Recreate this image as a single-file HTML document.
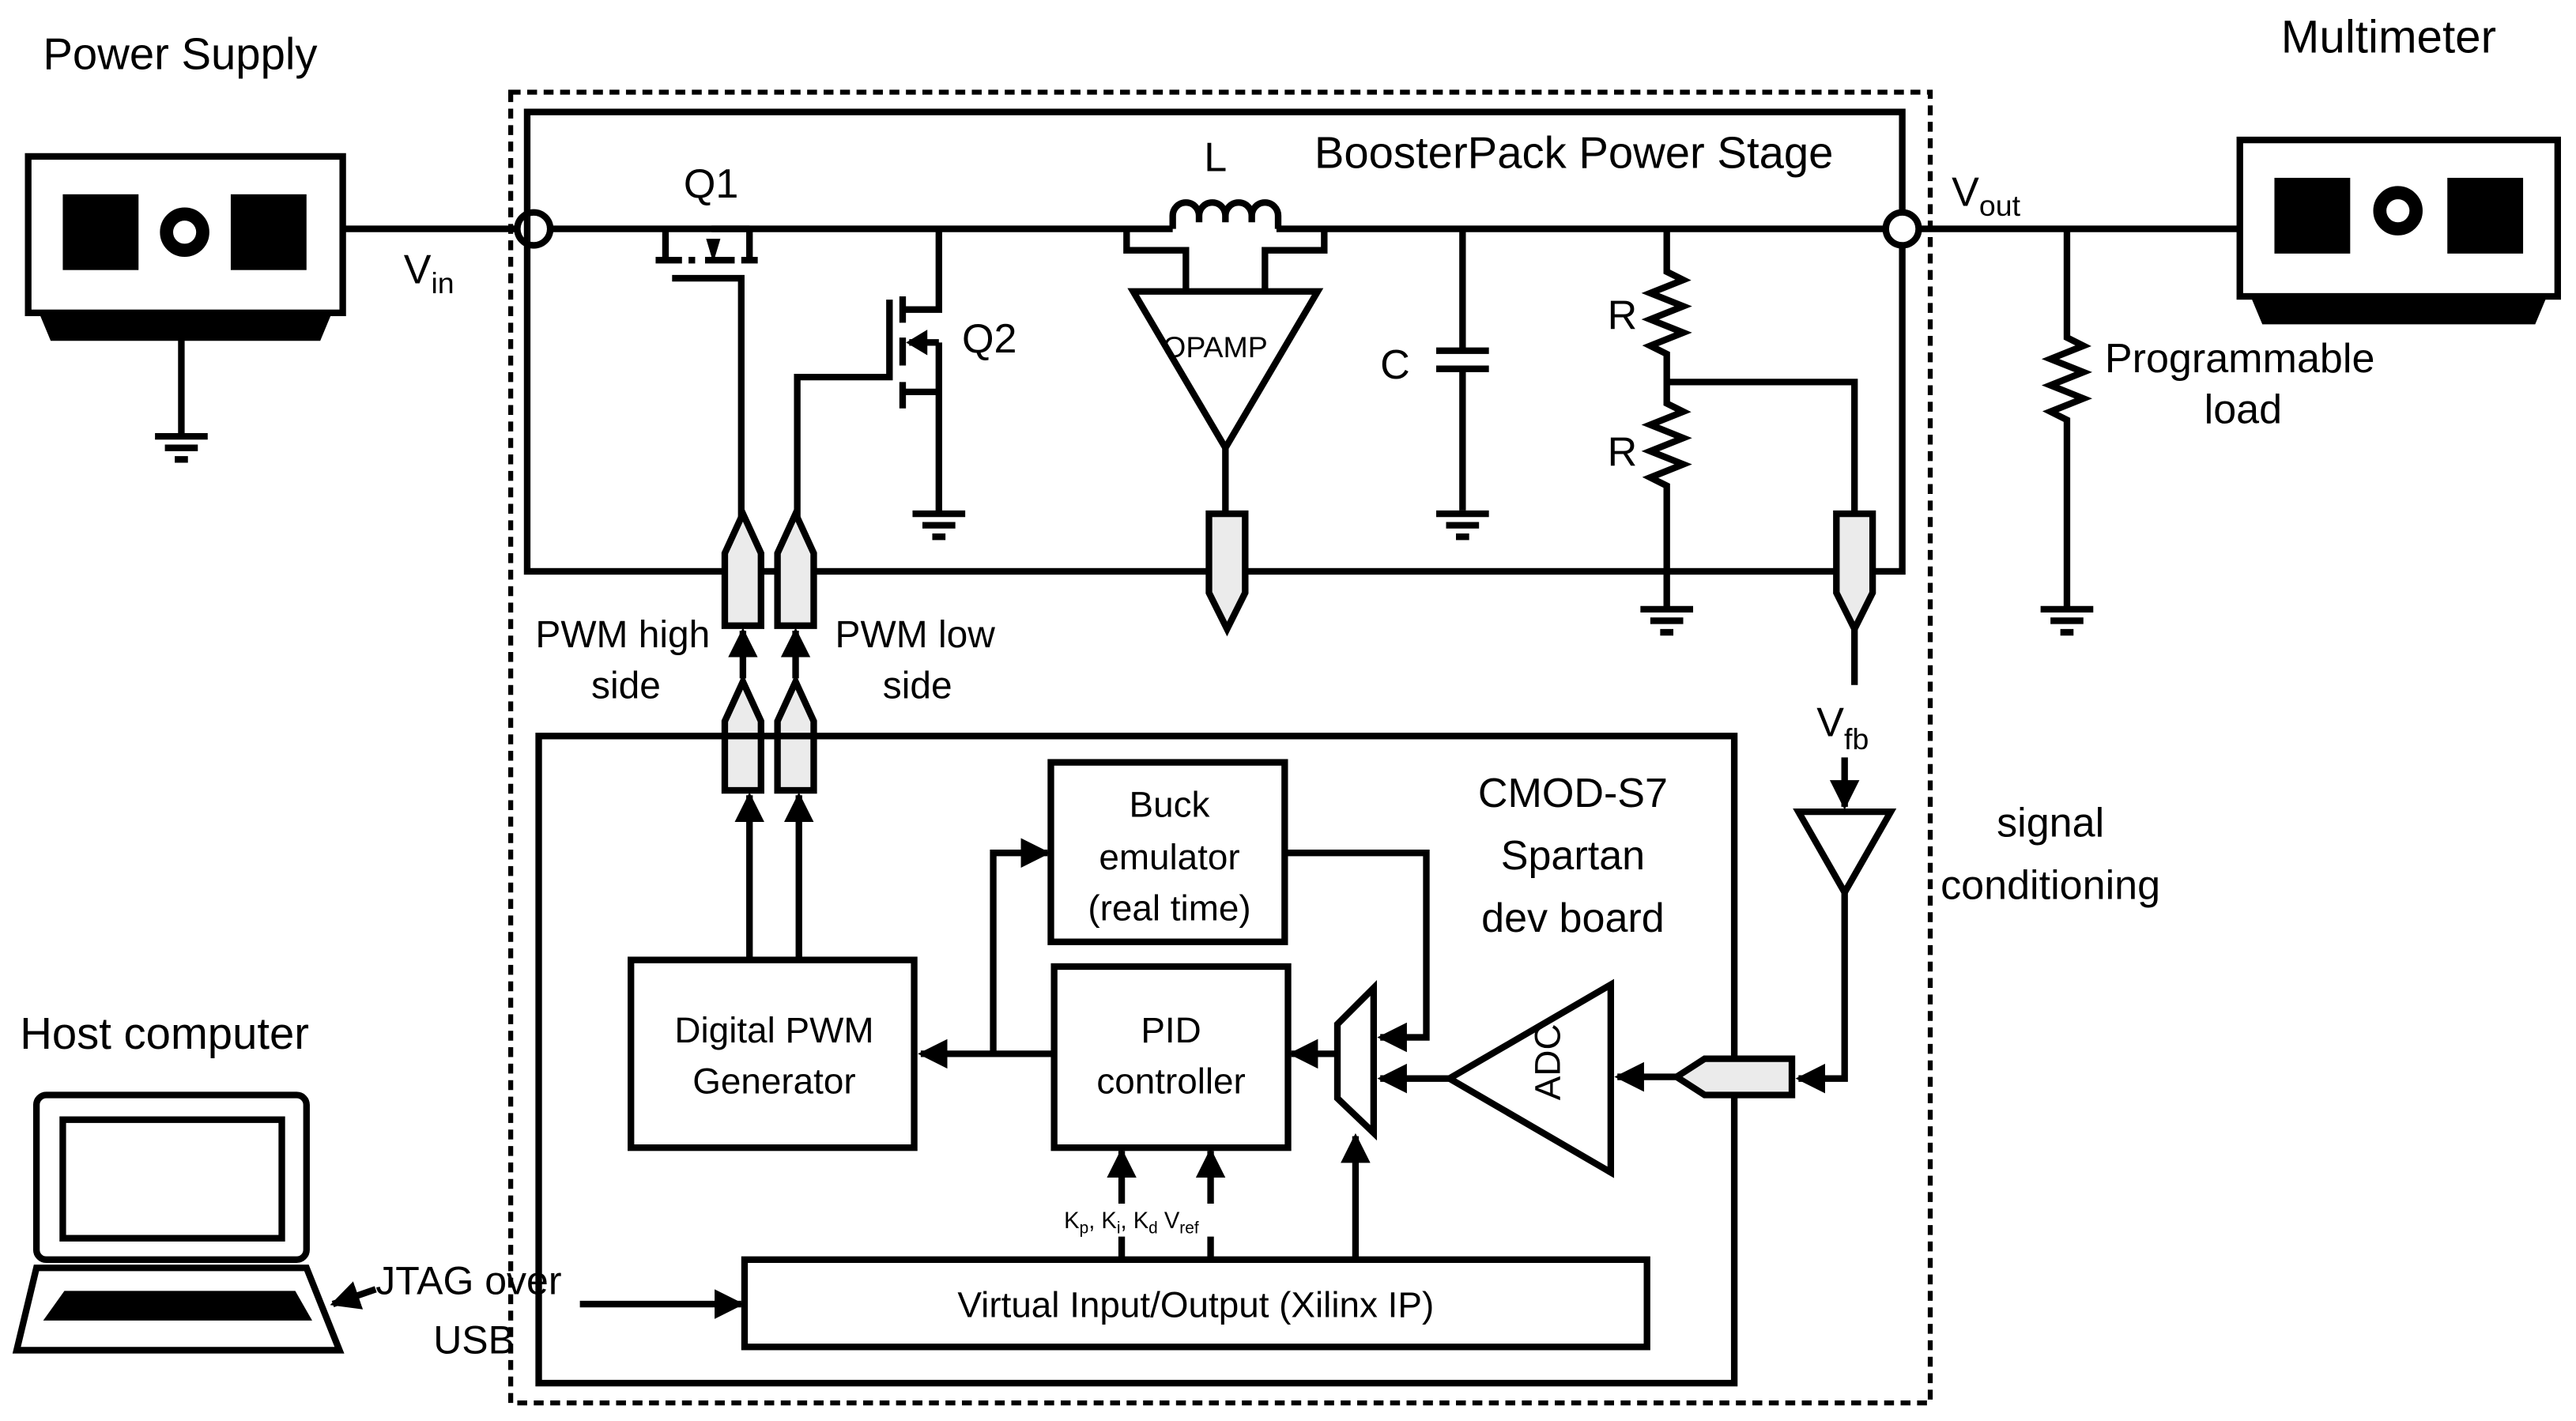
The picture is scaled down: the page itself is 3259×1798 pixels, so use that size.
<!DOCTYPE html>
<html><head><meta charset="utf-8"><style>html,body{margin:0;padding:0;background:#fff}svg{display:block}text{font-family:"Liberation Sans",sans-serif;fill:#000}</style></head><body>
<svg width="3259" height="1798" viewBox="0 0 1564 863" xmlns="http://www.w3.org/2000/svg">
<defs>
<marker id="a" viewBox="0 0 10 10" refX="9" refY="5" markerWidth="4.5" markerHeight="4.5" orient="auto" markerUnits="strokeWidth"><path d="M0,0L10,5L0,10z" fill="#000"/></marker>
<g id="gnd"><line x1="-16" y1="0" x2="16" y2="0" stroke="#000" stroke-width="4"/><line x1="-10" y1="7" x2="10" y2="7" stroke="#000" stroke-width="4"/><line x1="-4" y1="14" x2="4" y2="14" stroke="#000" stroke-width="4"/></g>
</defs>
<g fill="none" stroke="#000" stroke-width="4" stroke-linejoin="miter">
<rect x="17" y="95" width="191" height="95"/>
<rect x="40" y="120" width="42" height="42" fill="#000"/>
<circle cx="112" cy="141" r="11" stroke-width="8"/>
<rect x="142" y="120" width="42" height="42" fill="#000"/>
<path d="M27,193H198L193,205H32z" fill="#000"/>
<line x1="110" y1="205" x2="110" y2="265"/>
<line x1="208" y1="139" x2="314" y2="139"/>
<circle cx="324" cy="139" r="10" fill="#fff"/>
<rect x="310" y="56" width="862" height="796" stroke-width="3" stroke-dasharray="6,4"/>
<rect x="320" y="68" width="835" height="279"/>
<path d="M334,139H712M775,139H1145"/>
<path d="M712,139v-8a8,8 0 0 1 16,0v4M728,135v-4a8,8 0 0 1 16,0v4M744,135v-4a8,8 0 0 1 16,0v4M760,135v-4a8,8 0 0 1 16,0v8"/>
<path d="M684,139V152H720V176M804,139V152H768V176"/>
<path d="M404,139V158M398,158H414M428,158H446M418,158H422M455,139V158M450,158H460"/>
<path d="M432,139H455" />
<path d="M430,146L436,146L433,156z" fill="#000" stroke-width="2"/>
<path d="M408,169H450V318"/>
<path d="M570,139V188H548M548,180V196M548,205V222M548,232V248M570,208H552M570,238H548M570,208V312M540,182V229H484V318"/>
<path d="M552,208l10,-6v12z" fill="#000" stroke-width="2"/>
<path d="M688,177H800L744,272z"/>
<line x1="744" y1="272" x2="744" y2="315"/>
<path d="M888,139V212M872,213H904M872,224H904M888,224V310"/>
<path d="M1012,139V165l10,5l-20,8l20,8l-20,8l20,8l-20,8l10,5V245l10,5l-20,8l20,8l-20,8l20,8l-20,8l10,5V370"/>
<path d="M1012,232H1126V312"/>
<line x1="1155" y1="139" x2="1360" y2="139"/>
<circle cx="1155" cy="139" r="10" fill="#fff"/>
<rect x="1360" y="85" width="193" height="95"/>
<rect x="1383" y="110" width="42" height="42" fill="#000"/>
<circle cx="1456" cy="128" r="11" stroke-width="8"/>
<rect x="1488" y="110" width="42" height="42" fill="#000"/>
<path d="M1370,183H1543L1538,195H1375z" fill="#000"/>
<path d="M1255,139V205l10,5l-20,8l20,8l-20,8l20,8l-20,8l10,5V370"/>
<path d="M440,380V336L451,312L462,336V380z" fill="#ebebeb"/>
<path d="M472,380V336L483,312L494,336V380z" fill="#ebebeb"/>
<path d="M734,312H756V360L745,382L734,360z" fill="#ebebeb"/>
<path d="M1115,312H1137V360L1126,382L1115,360z" fill="#ebebeb"/>
<line x1="1126" y1="382" x2="1126" y2="416"/>
<line x1="451" y1="412" x2="451" y2="383" marker-end="url(#a)"/>
<line x1="483" y1="412" x2="483" y2="383" marker-end="url(#a)"/>
<path d="M440,480V438L451,414L462,438V480z" fill="#ebebeb"/>
<path d="M472,480V438L483,414L494,438V480z" fill="#ebebeb"/>
<rect x="327" y="447" width="726" height="393"/>
<rect x="638" y="463" width="142" height="109"/>
<rect x="640" y="587" width="142" height="110"/>
<rect x="383" y="583" width="172" height="114"/>
<rect x="452" y="765" width="548" height="53"/>
<line x1="455" y1="583" x2="455" y2="483" marker-end="url(#a)"/>
<line x1="485" y1="583" x2="485" y2="483" marker-end="url(#a)"/>
<line x1="1120" y1="460" x2="1120" y2="490" marker-end="url(#a)"/>
<path d="M1092,493H1148L1120,542z"/>
<path d="M1120,542V655H1092" marker-end="url(#a)"/>
<path d="M1088,643V665H1035L1018,654L1035,643z" fill="#ebebeb"/>
<line x1="1018" y1="654" x2="982" y2="654" marker-end="url(#a)"/>
<path d="M978,598V712L880,655z"/>
<path d="M880,655H838" marker-end="url(#a)"/>
<path d="M780,518H866V630H838" marker-end="url(#a)"/>
<path d="M812,622L834,600V688L812,667z"/>
<path d="M812,640H784" marker-end="url(#a)"/>
<path d="M640,640H559" marker-end="url(#a)"/>
<path d="M603,640V518H636" marker-end="url(#a)"/>
<path d="M681,765V699" marker-end="url(#a)" />
<path d="M735,765V699" marker-end="url(#a)" />
<path d="M823,765V690" marker-end="url(#a)"/>
<path d="M352,792H450" marker-end="url(#a)"/>
<rect x="22" y="665" width="164" height="100" rx="6"/>
<rect x="38" y="680" width="133" height="72"/>
<path d="M22,770H186L206,820H10z"/>
<path d="M40,786H178L186,800H30z" fill="#000"/>
<path d="M228,783L202,792" marker-end="url(#a)"/>
</g>
<rect x="644" y="731" width="112" height="20" fill="#fff"/>
<use href="#gnd" x="110" y="265"/>
<use href="#gnd" x="570" y="312"/>
<use href="#gnd" x="888" y="312"/>
<use href="#gnd" x="1012" y="370"/>
<use href="#gnd" x="1255" y="370"/>
<g font-size="25">
<text x="26" y="42" font-size="27">Power Supply</text>
<text x="1385" y="32" font-size="28">Multimeter</text>
<text x="12" y="637" font-size="27">Host computer</text>
<text x="245" y="172">V<tspan font-size="18" dy="6">in</tspan></text>
<text x="1185" y="125">V<tspan font-size="18" dy="6">out</tspan></text>
<text x="1103" y="447">V<tspan font-size="18" dy="8">fb</tspan></text>
<text x="798" y="102" font-size="27">BoosterPack Power Stage</text>
<text x="415" y="120">Q1</text>
<text x="584" y="214">Q2</text>
<text x="731" y="104">L</text>
<text x="838" y="230">C</text>
<text x="976" y="200">R</text>
<text x="976" y="283">R</text>
<text x="706" y="217" font-size="18">OPAMP</text>
<text x="1278" y="226">Programmable</text>
<text x="1362" y="257" text-anchor="middle">load</text>
<text x="325" y="393" font-size="23">PWM high</text>
<text x="380" y="424" font-size="23" text-anchor="middle">side</text>
<text x="507" y="393" font-size="23">PWM low</text>
<text x="557" y="424" font-size="23" text-anchor="middle">side</text>
<text x="955" y="490" text-anchor="middle">CMOD-S7</text>
<text x="955" y="528" text-anchor="middle">Spartan</text>
<text x="955" y="566" text-anchor="middle">dev board</text>
<text x="1245" y="508" text-anchor="middle">signal</text>
<text x="1245" y="546" text-anchor="middle">conditioning</text>
<g font-size="22" text-anchor="middle">
<text x="710" y="496">Buck</text>
<text x="710" y="528">emulator</text>
<text x="710" y="559">(real time)</text>
<text x="711" y="633">PID</text>
<text x="711" y="664">controller</text>
<text x="470" y="633">Digital PWM</text>
<text x="470" y="664">Generator</text>
<text x="726" y="800">Virtual Input/Output (Xilinx IP)</text>
</g>
<text x="955" y="657" font-size="22" text-anchor="middle" transform="rotate(-90 945 655)">ADC</text>
<text x="228" y="786" font-size="24">JTAG over</text>
<text x="263" y="822" font-size="24">USB</text>
<text x="646" y="746" font-size="14">K<tspan font-size="10" dy="3">p</tspan><tspan dy="-3">, K</tspan><tspan font-size="10" dy="3">i</tspan><tspan dy="-3">, K</tspan><tspan font-size="10" dy="3">d</tspan><tspan dy="-3"> V</tspan><tspan font-size="10" dy="3">ref</tspan></text>
</g>
</svg>
</body></html>
